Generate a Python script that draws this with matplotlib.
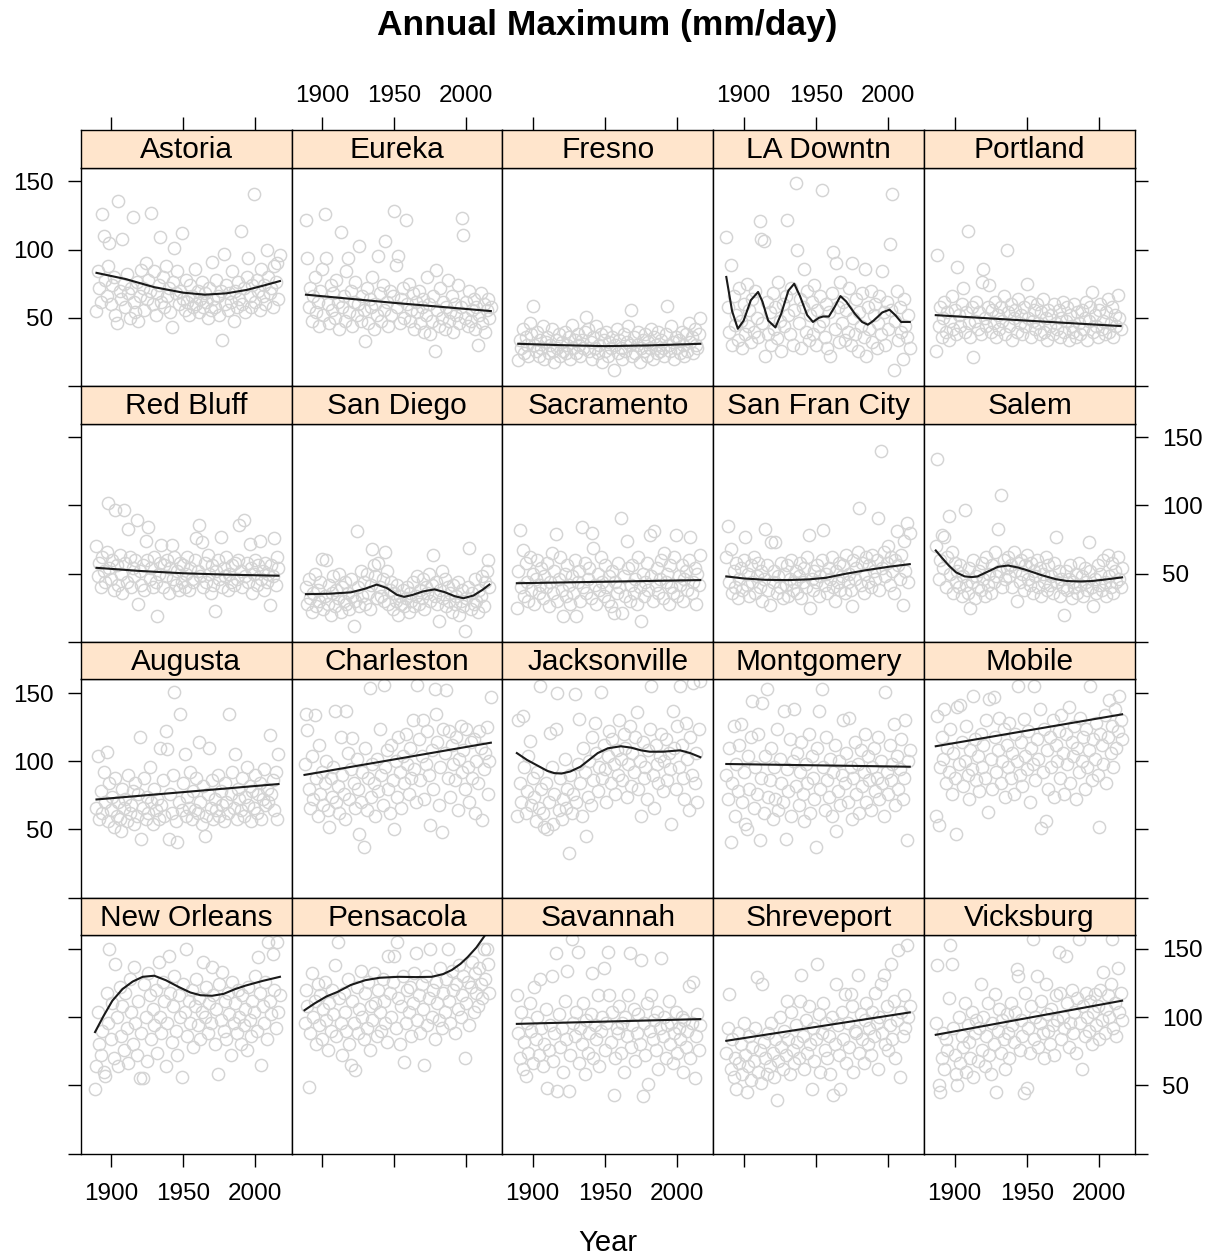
"""
Annual maximum daily precipitation (mm/day) by station, lattice-style
small multiples: open grey circles per year plus a dark smooth fit.
"""

import numpy as np
import matplotlib
matplotlib.use("Agg")
import matplotlib.pyplot as plt

plt.rcParams["font.family"] = ["Liberation Sans", "DejaVu Sans"]

# ---------------------------------------------------------------------------
# Data (one per year from the start year)
# ---------------------------------------------------------------------------
STATIONS = [
    "Astoria", "Eureka", "Fresno", "LA Downtn", "Portland",
    "Red Bluff", "San Diego", "Sacramento", "San Fran City", "Salem",
    "Augusta", "Charleston", "Jacksonville", "Montgomery", "Mobile",
    "New Orleans", "Pensacola", "Savannah", "Shreveport", "Vicksburg",
]
START_YEARS = [
    1890, 1889, 1890, 1888, 1887,
    1890, 1889, 1889, 1888, 1887,
    1890, 1888, 1889, 1888, 1887,
    1889, 1888, 1889, 1888, 1887,
]

astoria = [55, 84, 72, 62, 126, 110, 78, 66, 88, 105,
           60, 74, 80, 52, 46, 136, 70, 64, 108, 75,
           58, 82, 68, 50, 72, 124, 62, 54, 76, 48,
           66, 85, 72, 56, 90, 64, 78, 70, 127, 60,
           84, 52, 68, 74, 109, 62, 80, 58, 88, 66,
           72, 54, 43, 76, 101, 68, 84, 60, 70, 112,
           64, 56, 78, 62, 52, 74, 66, 58, 86, 60,
           70, 54, 64, 76, 58, 68, 62, 50, 72, 56,
           91, 64, 58, 78, 66, 52, 70, 34, 97, 60,
           74, 56, 68, 62, 84, 48, 70, 58, 76, 64,
           114, 60, 72, 54, 80, 94, 66, 58, 74, 141,
           62, 78, 70, 56, 86, 66, 74, 60, 100, 80,
           68, 72, 58, 88, 76, 90, 64, 96]
eureka = [122, 94, 58, 72, 48, 66, 80, 54, 62, 44,
          70, 86, 52, 126, 94, 60, 46, 74, 56, 68,
          50, 78, 62, 42, 113, 58, 66, 48, 84, 94,
          54, 70, 44, 62, 76, 52, 60, 103, 48, 66,
          56, 33, 72, 46, 64, 58, 80, 42, 60, 52,
          95, 68, 48, 74, 56, 106, 62, 44, 70, 52,
          66, 128, 89, 58, 95, 46, 64, 72, 50, 122,
          60, 75, 48, 56, 68, 42, 62, 54, 70, 46,
          58, 64, 40, 52, 80, 60, 38, 48, 66, 26,
          85, 56, 44, 72, 50, 62, 42, 58, 78, 48,
          54, 66, 40, 60, 52, 74, 46, 58, 123, 111,
          50, 62, 44, 70, 48, 56, 64, 42, 58, 30,
          52, 68, 46, 60, 40, 56, 64, 50, 58]
fresno = [19, 34, 28, 42, 24, 36, 30, 22, 46, 38,
          59, 30, 26, 40, 22, 34, 28, 44, 20, 32,
          36, 24, 30, 42, 26, 18, 34, 28, 38, 22,
          32, 26, 40, 24, 30, 36, 20, 45, 28, 34,
          24, 38, 30, 22, 34, 28, 40, 51, 42, 26,
          32, 20, 36, 28, 44, 24, 30, 38, 18, 34,
          26, 40, 22, 32, 28, 36, 12, 30, 42, 24,
          34, 28, 20, 38, 26, 32, 44, 30, 56, 22,
          36, 24, 30, 40, 18, 28, 34, 26, 38, 22,
          32, 28, 42, 20, 36, 30, 24, 40, 26, 34,
          28, 22, 38, 59, 30, 26, 44, 32, 20, 36,
          28, 34, 24, 40, 30, 22, 38, 26, 46, 32,
          36, 24, 42, 30, 28, 38, 50]
la_downtn = [109, 58, 40, 89, 30, 66, 45, 52, 34, 72,
             48, 28, 60, 38, 75, 44, 56, 32, 64, 40,
             70, 50, 36, 121, 108, 46, 106, 22, 62, 38,
             54, 30, 68, 42, 58, 35, 76, 48, 26, 60,
             44, 66, 122, 52, 38, 72, 30, 56, 149, 100,
             46, 64, 28, 58, 86, 40, 70, 34, 52, 62,
             38, 74, 30, 56, 44, 66, 144, 48, 36, 60,
             28, 54, 22, 68, 98, 42, 90, 58, 32, 76,
             46, 62, 34, 56, 40, 72, 30, 90, 50, 38,
             64, 26, 54, 44, 68, 36, 86, 22, 58, 42,
             70, 32, 52, 60, 28, 46, 66, 38, 84, 54,
             30, 62, 42, 104, 56, 141, 12, 48, 70, 34,
             58, 40, 20, 64, 44, 36, 52, 28]
portland = [26, 96, 44, 58, 36, 50, 62, 40, 54, 34,
            48, 66, 42, 56, 38, 87, 52, 44, 60, 72,
            40, 54, 114, 46, 36, 58, 21, 48, 62, 42,
            54, 38, 76, 86, 50, 44, 58, 74, 40, 56,
            46, 62, 36, 52, 42, 58, 48, 66, 38, 100,
            54, 44, 60, 34, 50, 56, 40, 64, 46, 52,
            38, 58, 44, 75, 50, 62, 36, 48, 56, 42,
            60, 46, 38, 54, 64, 40, 50, 34, 56, 44,
            52, 38, 60, 46, 42, 56, 36, 50, 62, 40,
            48, 58, 34, 52, 44, 40, 60, 36, 54, 46,
            38, 56, 42, 50, 62, 34, 48, 58, 69, 40,
            52, 44, 36, 56, 60, 42, 48, 38, 54, 64,
            40, 46, 58, 36, 52, 44, 67, 50, 42]
red_bluff = [70, 48, 58, 40, 62, 52, 44, 66, 102, 54,
             46, 60, 38, 97, 56, 42, 64, 50, 36, 97,
             58, 44, 83, 62, 40, 54, 48, 60, 89, 28,
             52, 42, 56, 38, 74, 60, 84, 46, 54, 40,
             62, 44, 19, 50, 58, 71, 40, 56, 48, 60,
             36, 54, 71, 46, 62, 42, 52, 38, 58, 44,
             56, 40, 50, 62, 38, 54, 46, 44, 60, 76,
             52, 86, 48, 73, 40, 58, 44, 64, 50, 36,
             56, 42, 23, 52, 60, 46, 77, 40, 54, 48,
             62, 38, 50, 44, 56, 42, 58, 46, 60, 86,
             52, 40, 89, 48, 58, 44, 72, 54, 36, 50,
             60, 42, 56, 74, 46, 52, 38, 58, 44, 50,
             27, 56, 48, 76, 42, 62, 54]
san_diego = [40, 28, 46, 32, 22, 36, 50, 26, 38, 30,
             44, 61, 24, 34, 60, 28, 42, 20, 36, 48,
             26, 38, 32, 50, 22, 40, 30, 44, 28, 36,
             24, 46, 34, 12, 30, 81, 40, 26, 52, 34,
             44, 28, 50, 36, 24, 42, 68, 56, 48, 32,
             58, 40, 34, 46, 30, 66, 52, 28, 38, 44,
             24, 36, 30, 42, 20, 34, 28, 38, 26, 32,
             40, 22, 36, 30, 44, 26, 34, 48, 28, 38,
             32, 46, 24, 40, 36, 50, 30, 42, 64, 34,
             44, 28, 15, 38, 52, 32, 46, 26, 40, 30,
             36, 22, 42, 28, 34, 44, 20, 30, 38, 26,
             8, 32, 40, 69, 24, 36, 28, 46, 30, 22,
             38, 34, 48, 26, 44, 52, 60, 40]
sacramento = [25, 52, 82, 40, 67, 34, 58, 44, 30, 62,
              38, 50, 28, 46, 60, 36, 42, 54, 32, 48,
              40, 58, 26, 44, 65, 36, 52, 79, 30, 46,
              62, 38, 19, 50, 34, 56, 42, 28, 48, 36,
              60, 19, 44, 52, 30, 84, 40, 58, 36, 46,
              54, 32, 80, 69, 42, 28, 50, 38, 62, 44,
              34, 56, 40, 30, 48, 26, 52, 21, 44, 36,
              58, 40, 91, 21, 48, 34, 74, 54, 30, 42,
              56, 36, 46, 28, 62, 40, 15, 50, 34, 44,
              58, 38, 78, 48, 30, 81, 42, 54, 36, 46,
              60, 32, 65, 44, 50, 28, 56, 40, 36, 62,
              78, 34, 48, 42, 56, 30, 46, 52, 38, 60,
              77, 36, 44, 54, 28, 50, 42, 64]
san_fran = [62, 85, 44, 68, 36, 52, 40, 58, 32, 46,
            54, 38, 60, 77, 42, 50, 34, 56, 44, 62,
            36, 48, 58, 40, 52, 30, 46, 83, 56, 38,
            27, 73, 44, 52, 73, 36, 48, 40, 58, 32,
            50, 42, 56, 34, 46, 60, 38, 44, 52, 36,
            48, 58, 32, 44, 54, 40, 62, 78, 25, 46,
            38, 52, 44, 56, 34, 48, 60, 82, 42, 50,
            36, 54, 46, 62, 40, 30, 52, 44, 58, 38,
            48, 56, 36, 64, 44, 50, 38, 26, 60, 46,
            54, 66, 98, 42, 58, 36, 50, 62, 44, 56,
            40, 64, 52, 46, 60, 91, 38, 140, 54, 66,
            48, 58, 70, 42, 62, 52, 36, 60, 81, 56,
            46, 64, 27, 74, 52, 87, 44, 80]
salem = [70, 134, 46, 60, 78, 54, 77, 40, 62, 92,
         50, 66, 36, 58, 44, 52, 40, 56, 34, 48,
         97, 42, 36, 54, 25, 44, 60, 32, 48, 40,
         52, 38, 58, 46, 34, 62, 42, 50, 36, 56,
         44, 66, 48, 83, 52, 108, 40, 60, 46, 54,
         62, 48, 56, 40, 66, 52, 30, 58, 44, 60,
         50, 38, 56, 64, 46, 42, 58, 36, 52, 48,
         60, 40, 54, 34, 50, 44, 62, 38, 56, 42,
         48, 36, 58, 77, 44, 52, 34, 46, 40, 20,
         52, 38, 46, 56, 32, 44, 40, 50, 36, 58,
         42, 48, 34, 54, 44, 38, 73, 52, 40, 26,
         46, 36, 56, 42, 50, 38, 60, 44, 34, 64,
         48, 40, 58, 36, 52, 44, 62, 46, 40, 54]
augusta = [66, 104, 58, 78, 62, 92, 70, 107, 56, 84,
           64, 74, 52, 88, 60, 70, 58, 49, 80, 66,
           72, 56, 90, 62, 68, 78, 54, 84, 60, 76,
           118, 43, 66, 88, 58, 74, 62, 96, 70, 54,
           80, 64, 72, 58, 110, 68, 86, 60, 122, 109,
           43, 76, 62, 90, 151, 56, 41, 70, 135, 64,
           84, 105, 60, 74, 66, 92, 58, 78, 64, 88,
           62, 114, 70, 54, 82, 45, 60, 76, 110, 66,
           86, 58, 72, 64, 90, 60, 78, 68, 56, 84,
           70, 62, 135, 76, 92, 66, 105, 58, 80, 72,
           64, 88, 60, 74, 96, 68, 82, 56, 78, 66,
           90, 62, 76, 84, 58, 72, 94, 68, 80, 70,
           119, 76, 86, 64, 92, 58, 105]
charleston = [98, 135, 123, 80, 66, 104, 72, 134, 88, 60,
              112, 76, 92, 68, 84, 100, 64, 52, 88, 74,
              96, 137, 70, 82, 62, 118, 90, 76, 58, 137,
              106, 72, 94, 117, 84, 66, 102, 80, 47, 70,
              92, 37, 110, 64, 88, 154, 74, 98, 84, 60,
              102, 78, 124, 90, 68, 156, 96, 108, 80, 62,
              112, 86, 50, 100, 74, 118, 92, 66, 104, 84,
              120, 98, 76, 110, 88, 130, 94, 70, 156, 116,
              86, 104, 130, 72, 98, 122, 90, 53, 108, 80,
              153, 135, 114, 68, 96, 48, 124, 106, 152, 88,
              122, 74, 112, 98, 86, 118, 64, 102, 126, 92,
              108, 80, 124, 96, 70, 114, 88, 116, 62, 100,
              84, 122, 110, 57, 94, 106, 125, 76, 100, 147]
jacksonville = [60, 130, 84, 70, 133, 96, 62, 78, 104, 115,
                68, 88, 74, 56, 92, 66, 155, 80, 62, 52,
                84, 50, 70, 121, 96, 54, 76, 124, 150, 64,
                88, 58, 72, 102, 66, 80, 33, 90, 62, 76,
                149, 70, 98, 131, 84, 60, 110, 92, 45, 74,
                100, 68, 118, 86, 128, 106, 78, 96, 151, 88,
                112, 94, 70, 104, 122, 84, 116, 98, 76, 108,
                90, 130, 102, 86, 120, 110, 74, 98, 126, 82,
                106, 92, 118, 136, 80, 100, 60, 114, 88, 96,
                72, 108, 124, 155, 90, 66, 112, 98, 84, 104,
                120, 78, 100, 116, 86, 106, 94, 54, 137, 110,
                80, 126, 96, 155, 112, 88, 72, 128, 102, 64,
                118, 90, 157, 84, 106, 70, 124, 159]
montgomery = [90, 72, 110, 41, 84, 126, 60, 98, 78, 112,
              127, 70, 92, 54, 50, 104, 80, 118, 144, 66,
              96, 76, 120, 42, 88, 143, 62, 104, 153, 74,
              86, 110, 58, 96, 72, 124, 64, 102, 84, 70,
              137, 43, 94, 78, 116, 60, 100, 138, 82, 106,
              68, 92, 114, 76, 56, 98, 84, 120, 62, 104,
              88, 72, 37, 110, 137, 80, 153, 96, 64, 118,
              86, 74, 102, 60, 92, 112, 49, 78, 100, 68,
              90, 130, 84, 106, 70, 132, 96, 58, 88, 114,
              76, 98, 62, 108, 82, 92, 120, 70, 104, 86,
              64, 96, 110, 78, 88, 118, 72, 100, 84, 60,
              151, 92, 76, 112, 86, 98, 127, 68, 104, 80,
              94, 116, 72, 88, 130, 42, 100, 108]
mobile = [60, 133, 53, 96, 118, 102, 138, 84, 110, 92,
          124, 76, 106, 88, 47, 140, 98, 141, 114, 82,
          100, 126, 90, 72, 108, 94, 148, 116, 86, 104,
          78, 120, 96, 112, 88, 130, 63, 146, 102, 80,
          147, 118, 92, 108, 132, 84, 100, 124, 74, 112,
          96, 128, 88, 106, 76, 120, 100, 155, 90, 114,
          82, 131, 104, 94, 122, 70, 110, 98, 155, 86,
          116, 102, 138, 51, 92, 124, 56, 108, 80, 118,
          96, 130, 74, 112, 100, 122, 88, 134, 106, 76,
          120, 98, 140, 84, 114, 104, 126, 72, 110, 92,
          132, 100, 118, 80, 124, 96, 108, 155, 86, 116,
          102, 128, 90, 52, 120, 112, 98, 134, 84, 118,
          145, 106, 126, 96, 138, 110, 122, 148, 130, 116]
new_orleans = [47, 64, 104, 80, 72, 90, 60, 57, 118, 96,
               150, 84, 110, 70, 139, 100, 64, 122, 86, 108,
               76, 118, 92, 66, 128, 104, 80, 137, 96, 72,
               112, 55, 88, 55, 124, 100, 68, 132, 116, 84,
               106, 94, 120, 74, 140, 100, 88, 126, 112, 64,
               96, 145, 118, 82, 108, 130, 90, 72, 116, 100,
               56, 124, 104, 150, 86, 112, 96, 120, 78, 108,
               128, 94, 114, 84, 104, 140, 100, 122, 88, 110,
               96, 137, 116, 80, 106, 58, 124, 98, 133, 90,
               112, 84, 118, 102, 72, 126, 96, 110, 88, 120,
               100, 80, 116, 94, 106, 76, 122, 98, 86, 112,
               104, 130, 90, 144, 118, 65, 108, 96, 126, 84,
               155, 112, 102, 146, 120, 92, 155, 104, 116]
pensacola = [96, 120, 108, 49, 88, 132, 100, 112, 80, 124,
             94, 116, 84, 106, 126, 98, 76, 110, 90, 120,
             102, 138, 86, 155, 114, 96, 72, 118, 104, 90,
             128, 80, 65, 112, 96, 61, 122, 88, 106, 134,
             100, 84, 118, 92, 126, 76, 108, 98, 132, 110,
             86, 120, 104, 90, 128, 112, 96, 82, 145, 118,
             100, 126, 145, 92, 155, 114, 80, 108, 130, 67,
             96, 120, 104, 122, 86, 110, 132, 147, 98, 116,
             88, 124, 106, 65, 130, 94, 114, 150, 100, 120,
             84, 126, 110, 98, 136, 92, 118, 104, 128, 150,
             112, 96, 134, 120, 88, 124, 106, 138, 100, 116,
             130, 70, 110, 126, 94, 122, 140, 104, 132, 118,
             108, 136, 124, 114, 150, 128, 150, 139, 118]
savannah = [116, 88, 70, 104, 62, 82, 57, 96, 74, 110,
            90, 66, 122, 84, 100, 72, 128, 92, 64, 80,
            106, 48, 76, 94, 130, 68, 88, 147, 46, 102,
            78, 92, 60, 112, 84, 134, 46, 72, 157, 96,
            86, 104, 148, 66, 92, 80, 110, 58, 98, 74,
            88, 102, 132, 70, 94, 84, 116, 64, 90, 100,
            136, 76, 96, 148, 116, 82, 104, 43, 70, 92,
            88, 108, 74, 96, 60, 100, 86, 116, 147, 78,
            94, 106, 68, 88, 102, 80, 142, 42, 96, 72,
            110, 51, 90, 116, 84, 98, 76, 104, 62, 92,
            143, 86, 100, 70, 94, 112, 80, 96, 66, 88,
            104, 74, 92, 84, 100, 60, 98, 78, 90, 123,
            70, 96, 126, 55, 86, 102, 76, 94]
shreveport = [74, 92, 117, 62, 84, 56, 70, 47, 88, 66,
              80, 58, 96, 72, 45, 64, 86, 54, 78, 68,
              92, 129, 60, 76, 52, 124, 82, 70, 58, 88,
              64, 96, 74, 56, 84, 39, 68, 100, 78, 62,
              90, 72, 112, 84, 58, 104, 76, 66, 94, 82,
              70, 112, 131, 86, 62, 98, 74, 108, 80, 47,
              92, 68, 84, 139, 102, 60, 88, 110, 76, 96,
              70, 86, 58, 100, 43, 80, 124, 94, 72, 47,
              104, 84, 117, 66, 96, 78, 117, 108, 60, 90,
              88, 131, 74, 102, 84, 66, 98, 110, 80, 92,
              72, 104, 86, 118, 96, 62, 100, 124, 88, 131,
              80, 108, 76, 94, 139, 84, 112, 70, 98, 149,
              56, 104, 86, 116, 92, 153, 100, 108]
vicksburg = [96, 138, 50, 45, 70, 88, 62, 84, 76, 114,
             153, 139, 92, 72, 58, 50, 100, 66, 86, 78,
             110, 60, 94, 82, 70, 104, 56, 88, 98, 68,
             92, 124, 76, 100, 64, 86, 110, 72, 58, 96,
             80, 117, 45, 90, 106, 74, 98, 84, 62, 102,
             88, 70, 110, 94, 82, 104, 135, 130, 76, 98,
             86, 44, 118, 48, 92, 74, 108, 157, 84, 100,
             130, 78, 96, 112, 88, 70, 124, 102, 90, 80,
             106, 94, 72, 116, 98, 148, 118, 84, 100, 92,
             145, 110, 78, 96, 120, 88, 104, 74, 114, 157,
             96, 62, 108, 86, 118, 100, 90, 112, 80, 104,
             117, 94, 108, 84, 120, 98, 133, 88, 106, 116,
             100, 124, 157, 92, 110, 86, 136, 104, 118, 98]

VALUES = [
    astoria, eureka, fresno, la_downtn, portland,
    red_bluff, san_diego, sacramento, san_fran, salem,
    augusta, charleston, jacksonville, montgomery, mobile,
    new_orleans, pensacola, savannah, shreveport, vicksburg,
]

# Smooth fit curves: knot years and fitted values
FIT_YEARS = [
    [1890, 1910, 1930, 1950, 1965, 1980, 1994, 2005, 2017],
    [1889, 1950, 2017],
    [1890, 1920, 1950, 1980, 2016],
    [1888, 1892, 1896, 1900, 1905, 1910, 1913, 1917, 1922, 1926,
     1931, 1935, 1939, 1944, 1948, 1952, 1955, 1959, 1963, 1967,
     1971, 1977, 1982, 1986, 1990, 1996, 2001, 2005, 2009, 2015],
    [1887, 1950, 2015],
    [1890, 1920, 1950, 1980, 2016],
    [1889, 1905, 1920, 1930, 1938, 1945, 1952, 1957, 1963, 1970,
     1978, 1985, 1992, 1998, 2005, 2011, 2016],
    [1889, 2016],
    [1888, 1900, 1915, 1930, 1945, 1957, 1970, 1985, 2000, 2015],
    [1887, 1891, 1896, 1901, 1907, 1912, 1916, 1922, 1930, 1937,
     1944, 1950, 1960, 1970, 1978, 1987, 1995, 2005, 2016],
    [1890, 2016],
    [1888, 2017],
    [1889, 1896, 1903, 1910, 1915, 1920, 1926, 1933, 1939, 1945,
     1952, 1961, 1968, 1975, 1981, 1990, 1996, 2002, 2009, 2016],
    [1888, 2015],
    [1887, 2016],
    [1889, 1895, 1901, 1908, 1915, 1922, 1930, 1938, 1947, 1955,
     1962, 1970, 1978, 1986, 1993, 2005, 2017],
    [1888, 1895, 1903, 1911, 1920, 1930, 1940, 1953, 1965, 1976,
     1984, 1990, 1996, 2001, 2007, 2013, 2016],
    [1889, 2016],
    [1888, 2015],
    [1887, 2016],
]
FIT_VALUES = [
    [83, 78.5, 72.5, 68.5, 67, 68, 70.5, 73.5, 77],
    [67, 61, 55],
    [31, 30, 29.3, 29.8, 31],
    [80, 55, 42, 48, 63, 69, 62, 48, 43, 53,
     70, 75, 66, 52, 47, 50, 51, 51, 58, 66,
     62, 53, 47, 45, 48, 54, 56, 52, 47, 47],
    [52, 48, 44],
    [54.3, 52, 50.3, 49.3, 48.5],
    [35, 35.3, 36.3, 39, 42, 39.5, 34.5, 33, 34.5, 37,
     38.5, 36.5, 33.5, 32, 34, 38, 42],
    [43, 45.3],
    [48, 46.5, 45.5, 45.3, 45.8, 47, 49.8, 52.6, 55, 57],
    [67, 62, 56, 51, 48, 47.5, 48, 51, 55, 56,
     54.5, 52.6, 49, 46, 44.6, 44.3, 44.6, 45.8, 47.3],
    [72, 83.3],
    [90, 113.6],
    [106, 101, 97, 93, 91.3, 91, 92.5, 96, 101, 106,
     109.5, 111, 110, 108, 107, 107, 107.5, 108, 106, 103],
    [98, 96],
    [111, 134.4],
    [89, 101, 112, 120.5, 126, 129.5, 130.3, 127, 122, 118,
     116, 115.6, 117, 120.5, 123, 126.5, 129.5],
    [105, 110, 115, 118.5, 123.5, 127, 128.8, 129.5, 129.3, 129.5,
     131.5, 134.5, 139, 144, 151, 160, 166],
    [95, 98.5],
    [82.6, 103.4],
    [87, 112],
]

XLIM = (1879, 2025)
YLIM = (0, 160)
XTICKS = [1900, 1950, 2000]
YTICKS = [0, 50, 100, 150]
YTICKLABELS = ["", "50", "100", "150"]

# ---------------------------------------------------------------------------
# Layout (pixels of the 1215 x 1260 figure)
# ---------------------------------------------------------------------------
W, H = 1215, 1260
LEFT0, COL_W = 80.6, 210.9
TOP0, ROW_H = 130.3, 255.8
STRIP_H, PANEL_H = 37.5, 218.3

STRIP_COLOR = "#FFE5CC"
POINT_COLOR = "#D4D4D4"
LINE_COLOR = "#1A1A1A"
TICK_KW = dict(direction="out", length=9.5, width=1.0, labelsize=17.5,
               colors="black")


def rect(x, y, w, h):
    return [x / W, 1 - (y + h) / H, w / W, h / H]


fig = plt.figure(figsize=(W / 100, H / 100), dpi=100)

for i, name in enumerate(STATIONS):
    r, c = divmod(i, 5)
    x0 = LEFT0 + c * COL_W
    strip_top = TOP0 + r * ROW_H

    # ---- panel ----
    ax = fig.add_axes(rect(x0, strip_top + STRIP_H, COL_W, PANEL_H))
    vals = VALUES[i]
    years = START_YEARS[i] + np.arange(len(vals))
    ax.plot(years, vals, "o", mfc="none", mec=POINT_COLOR, ms=8.8, mew=1.05,
            zorder=2)
    ax.plot(FIT_YEARS[i], FIT_VALUES[i], "-", color=LINE_COLOR, lw=1.5,
            zorder=3, solid_joinstyle="round")
    ax.set_xlim(XLIM)
    ax.set_ylim(YLIM)
    ax.set_xticks(XTICKS)
    ax.set_yticks(YTICKS)
    ax.set_yticklabels(YTICKLABELS)
    for sp in ax.spines.values():
        sp.set_linewidth(1.0)

    ax.tick_params(axis="x", top=False, labeltop=False,
                   bottom=(r == 3), labelbottom=(r == 3 and c in (0, 2, 4)),
                   pad=12, **TICK_KW)
    ax.tick_params(axis="y",
                   left=(c == 0), labelleft=(c == 0 and r in (0, 2)),
                   right=(c == 4), labelright=(c == 4 and r in (1, 3)),
                   pad=10, **TICK_KW)

    # ---- strip ----
    sx = fig.add_axes(rect(x0, strip_top, COL_W, STRIP_H))
    sx.set_facecolor(STRIP_COLOR)
    sx.set_xlim(XLIM)
    sx.set_ylim(0, 1)
    sx.set_yticks([])
    for sp in sx.spines.values():
        sp.set_linewidth(1.0)
    if r == 0:
        sx.set_xticks(XTICKS)
        sx.tick_params(axis="x", bottom=False, labelbottom=False,
                       top=True, labeltop=(c in (1, 3)), pad=7, **TICK_KW)
    else:
        sx.set_xticks([])
    sx.text(0.5, 0.47, name, transform=sx.transAxes, ha="center",
            va="center", fontsize=21.5, color="black")

fig.text(607.5 / W, 1 - 25 / H, "Annual Maximum (mm/day)", ha="center",
         va="center", fontsize=25.5, fontweight="bold")
fig.text(607.5 / W, 1 - 1243 / H, "Year", ha="center", va="center",
         fontsize=21)

fig.savefig("out.png", dpi=100)
